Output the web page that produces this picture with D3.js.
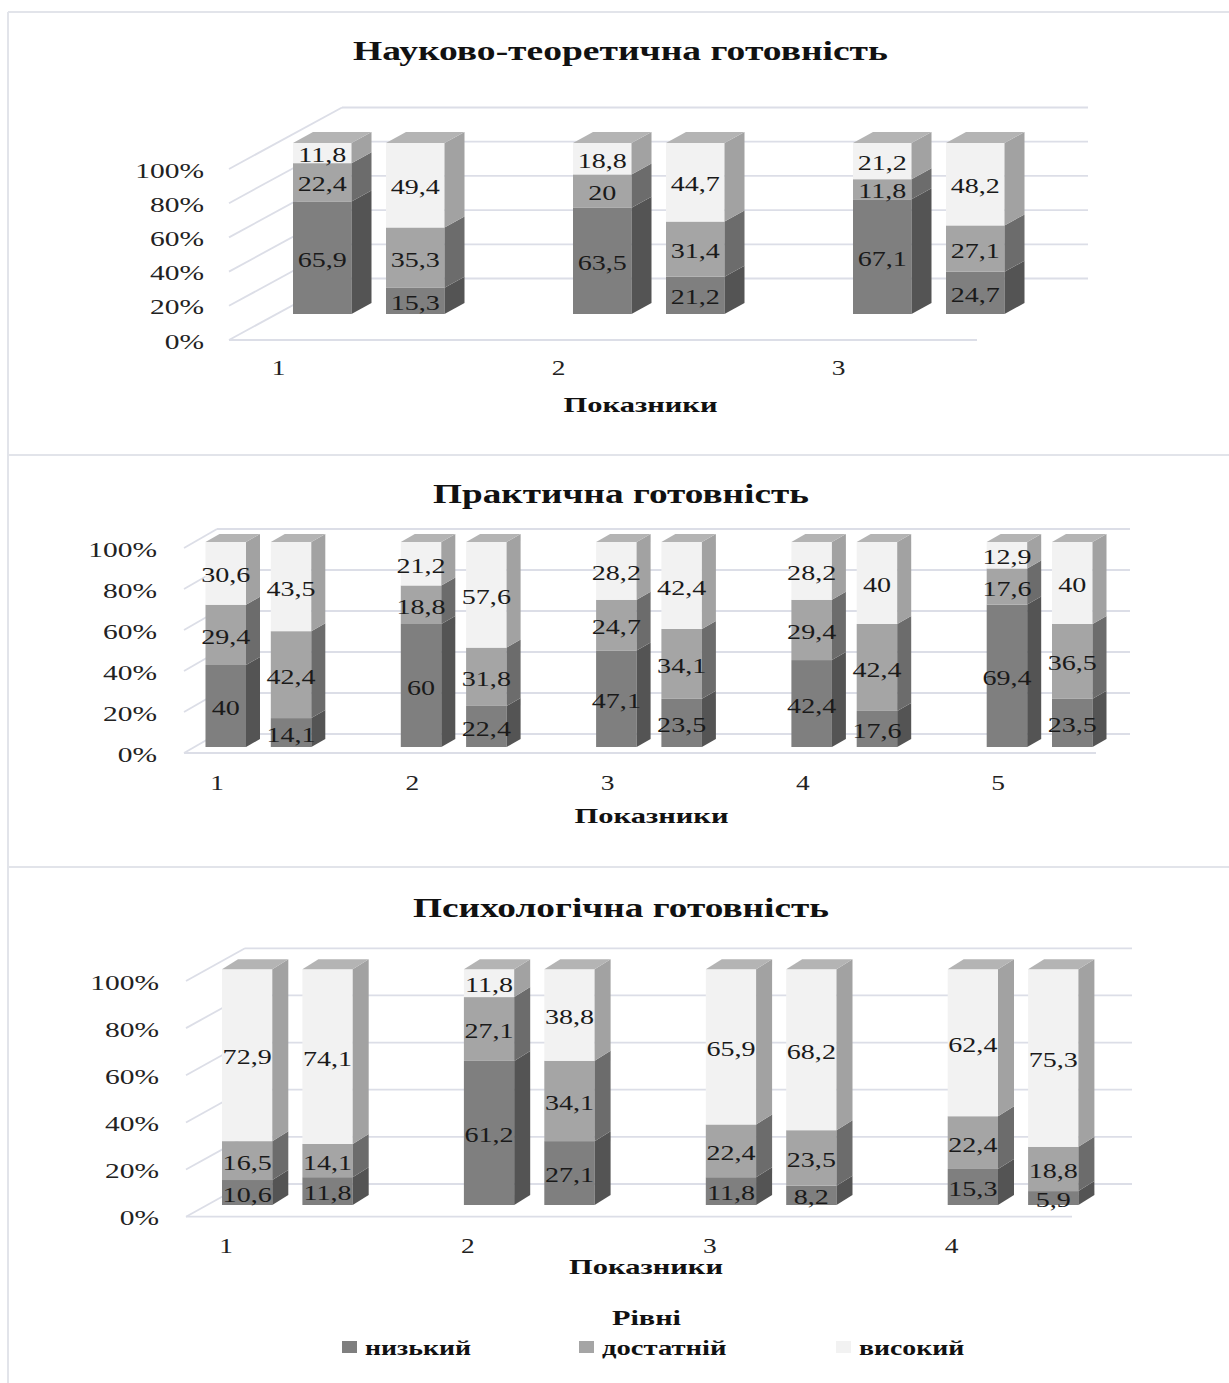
<!DOCTYPE html>
<html>
<head>
<meta charset="utf-8">
<script src="https://cdn.jsdelivr.net/npm/d3@7"></script>
<style>
  body { margin: 0; background: #ffffff; }
  svg { display: block; }
</style>
</head>
<body>
<svg id="chart" width="1229" height="1383"></svg>
<script>
// ---- data ----
const levels = ["низький", "достатній", "високий"];
const groups = ["A", "B"];
const tickValues = [0, 0.2, 0.4, 0.6, 0.8, 1];
const tickLabels = ["0%", "20%", "40%", "60%", "80%", "100%"];
const axisTitle = "Показники";
const legendTitle = "Рівні";

const sciTitle = "Науково-теоретична готовність";
const sciCategories = ["1", "2", "3"];
const sciLow  = [[65.9, 15.3], [63.5, 21.2], [67.1, 24.7]];
const sciMid  = [[22.4, 35.3], [20, 31.4], [11.8, 27.1]];
const sciHigh = [[11.8, 49.4], [18.8, 44.7], [21.2, 48.2]];

const pracTitle = "Практична готовність";
const pracCategories = ["1", "2", "3", "4", "5"];
const pracLow  = [[40, 14.1], [60, 22.4], [47.1, 23.5], [42.4, 17.6], [69.4, 23.5]];
const pracMid  = [[29.4, 42.4], [18.8, 31.8], [24.7, 34.1], [29.4, 42.4], [17.6, 36.5]];
const pracHigh = [[30.6, 43.5], [21.2, 57.6], [28.2, 42.4], [28.2, 40], [12.9, 40]];

const psyTitle = "Психологічна готовність";
const psyCategories = ["1", "2", "3", "4"];
const psyLow  = [[10.6, 11.8], [61.2, 27.1], [11.8, 8.2], [15.3, 5.9]];
const psyMid  = [[16.5, 14.1], [27.1, 34.1], [22.4, 23.5], [22.4, 18.8]];
const psyHigh = [[72.9, 74.1], [11.8, 38.8], [65.9, 68.2], [62.4, 75.3]];

// ---- styles ----
const frontColor = ["#7f7f7f", "#a5a5a5", "#f2f2f2"];
const sideColor  = ["#545454", "#6c6c6c", "#a2a2a2"];
const topColor   = ["#9a9a9a", "#bdbdbd", "#b4b4b4"];
const gridColor  = "#dcdee7";
const FONT = "'Liberation Serif', 'Times New Roman', serif";
const STRETCH = 1.37;

const svg = d3.select("#chart");

// text drawn with the wide serif look; optional exact width
function label(g, x, y, s, o = {}) {
  const t = g.append("text")
    .attr("font-family", FONT)
    .attr("font-size", o.size || 20.5)
    .attr("font-weight", o.bold ? "bold" : "normal")
    .attr("fill", o.fill || "#1a1a1a")
    .attr("text-anchor", o.anchor || "middle")
    .attr("dominant-baseline", "central")
    .text(s);
  let k = STRETCH;
  if (o.width) {
    const w = t.node().getComputedTextLength();
    if (w > 0) k = o.width / w;
  }
  t.attr("transform", `translate(${x},${y}) scale(${k},1)`);
  return t;
}

const fmt = v => String(v).replace(".", ",");

// ---- chart frame ----
const frame = svg.append("g").attr("stroke", "#e2e4ea").attr("stroke-width", 2);
frame.append("line").attr("x1", 8).attr("x2", 8).attr("y1", 12).attr("y2", 1383);
[12, 455, 867].forEach(y =>
  frame.append("line").attr("x1", 8).attr("x2", 1229).attr("y1", y).attr("y2", y));

function drawPanel(cfg) {
  const g = svg.append("g");

  // title
  label(g, cfg.titleX, cfg.titleY, cfg.title, { size: 27, bold: true, width: cfg.titleW, fill: "#111" });

  // front plane scale (axis labels, floor edge) and bar scale
  const yFront = d3.scaleLinear().domain([0, 1]).range([cfg.front0, cfg.front0 - cfg.wallH]);
  const yBar = d3.scaleLinear().domain([0, 1]).range([cfg.barBottom, cfg.barBottom - cfg.wallH]);
  const [ddx, ddy] = cfg.depth;
  const backLeft = cfg.left + ddx;

  // walls: back gridlines + side-wall diagonals + floor front edge
  const walls = g.append("g").attr("stroke", gridColor).attr("stroke-width", 1.8).attr("fill", "none");
  tickValues.forEach(v => {
    walls.append("line")
      .attr("x1", backLeft).attr("x2", cfg.backRight)
      .attr("y1", yFront(v) + ddy).attr("y2", yFront(v) + ddy);
    walls.append("line")
      .attr("x1", cfg.left).attr("y1", yFront(v))
      .attr("x2", backLeft).attr("y2", yFront(v) + ddy);
  });
  walls.append("line")
    .attr("x1", cfg.left).attr("x2", cfg.frontRight)
    .attr("y1", yFront(0)).attr("y2", yFront(0));

  // y tick labels
  tickValues.forEach((v, i) =>
    label(g, cfg.tickX, yFront(v) + 1.5, tickLabels[i], { size: 21.5, anchor: "end", fill: "#222", width: null }));

  // stacked (100%) data
  const rows = [];
  cfg.categories.forEach((c, i) => groups.forEach((gr, j) => {
    rows.push({
      cat: c, group: gr,
      [levels[0]]: cfg.low[i][j],
      [levels[1]]: cfg.mid[i][j],
      [levels[2]]: cfg.high[i][j]
    });
  }));
  const series = d3.stack().keys(levels).offset(d3.stackOffsetExpand)(rows);

  const xCat = d3.scalePoint().domain(cfg.categories)
    .range([cfg.barX0, cfg.barX0 + (cfg.categories.length - 1) * cfg.step]);
  const xGroup = d3.scaleBand().domain(groups)
    .range([0, cfg.off + cfg.barW]).paddingInner(1 - cfg.barW / cfg.off);
  const bw = xGroup.bandwidth();
  const [bdx, bdy] = cfg.barDepth;

  const bars = g.append("g");
  const labels = [];
  rows.forEach((row, r) => {
    const x = xCat(row.cat) + xGroup(row.group);
    const bar = bars.append("g");
    series.forEach((s, k) => {
      const y0 = yBar(s[r][0]), y1 = yBar(s[r][1]);
      bar.append("rect")
        .attr("x", x).attr("y", y1).attr("width", bw).attr("height", Math.max(0, y0 - y1))
        .attr("fill", frontColor[k]);
      bar.append("polygon")
        .attr("points", [[x + bw, y0], [x + bw + bdx, y0 + bdy], [x + bw + bdx, y1 + bdy], [x + bw, y1]].join(" "))
        .attr("fill", sideColor[k]);
      if (k === series.length - 1) {
        bar.append("polygon")
          .attr("points", [[x, y1], [x + bdx, y1 + bdy], [x + bw + bdx, y1 + bdy], [x + bw, y1]].join(" "))
          .attr("fill", topColor[k]);
      }
      labels.push({ x: x + bw / 2, y: (y0 + y1) / 2 + 2, v: row[s.key] });
    });
  });

  const lg = g.append("g");
  labels.forEach(d => label(lg, d.x, d.y, fmt(d.v), { size: 20.5 }));

  // category labels
  cfg.categories.forEach(c =>
    label(g, xCat(c) + cfg.catDx, cfg.catY, c, { size: 20, fill: "#222" }));

  // axis title
  label(g, cfg.axisX, cfg.axisY, axisTitle, { size: 22, bold: true, width: 154, fill: "#111" });
}

drawPanel({
  title: sciTitle, titleX: 620.5, titleY: 51, titleW: 535,
  categories: sciCategories, low: sciLow, mid: sciMid, high: sciHigh,
  front0: 340, wallH: 171, depth: [113, -61.5], left: 229, frontRight: 977, backRight: 1088,
  tickX: 204,
  barBottom: 314, barX0: 293, step: 280, off: 93, barW: 58.5, barDepth: [20, -11],
  catDx: -14.5, catY: 368,
  axisX: 640.5, axisY: 405
});

drawPanel({
  title: pracTitle, titleX: 621, titleY: 494, titleW: 376,
  categories: pracCategories, low: pracLow, mid: pracMid, high: pracHigh,
  front0: 753, wallH: 205, depth: [33, -19], left: 184, frontRight: 1096, backRight: 1130,
  tickX: 157,
  barBottom: 747, barX0: 205.5, step: 195.3, off: 65.3, barW: 40.5, barDepth: [14, -8],
  catDx: 11.5, catY: 783,
  axisX: 651.5, axisY: 816
});

drawPanel({
  title: psyTitle, titleX: 621, titleY: 908, titleW: 416,
  categories: psyCategories, low: psyLow, mid: psyMid, high: psyHigh,
  front0: 1216.7, wallH: 235.7, depth: [59, -32.7], left: 186, frontRight: 1072, backRight: 1132,
  tickX: 159,
  barBottom: 1205, barX0: 222, step: 241.9, off: 80.4, barW: 50.3, barDepth: [16, -10],
  catDx: 4, catY: 1246,
  axisX: 646, axisY: 1267
});

// ---- legend ----
const legend = svg.append("g");
label(legend, 646.5, 1318, legendTitle, { size: 22, bold: true, width: 69, fill: "#111" });
const legendX = [342, 579, 836];
const legendW = [106, 124.5, 105.4];
levels.forEach((name, i) => {
  legend.append("rect")
    .attr("x", legendX[i]).attr("y", 1341).attr("width", 15).attr("height", 12)
    .attr("fill", frontColor[i]);
  label(legend, legendX[i] + 23, 1348, name, { size: 21, bold: true, anchor: "start", width: legendW[i], fill: "#111" });
});
</script>
</body>
</html>
